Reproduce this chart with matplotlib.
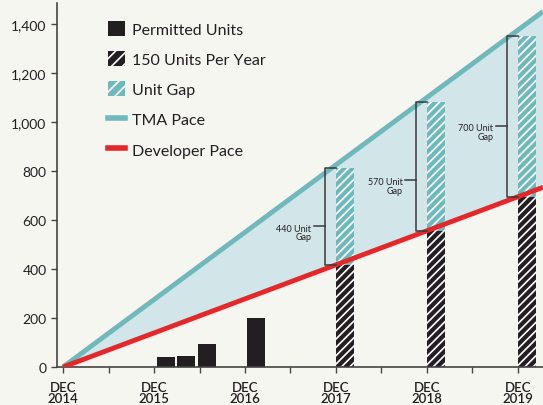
import numpy as np
import matplotlib.pyplot as plt
from matplotlib.patches import Patch
from matplotlib.lines import Line2D

# years since Dec 2014
tick_labels = ["DEC\n2014", "DEC\n2015", "DEC\n2016", "DEC\n2017", "DEC\n2018", "DEC\n2019"]
permitted_x = [1.03, 1.25, 1.48, 2.02]
permitted_units = [41, 45, 94, 200]
target_x = [3, 4, 5]
target_units = [417, 556, 695]
gap_tops = [810, 1080, 1350]
gap_labels = ["440 Unit\nGap", "570 Unit\nGap", "700 Unit\nGap"]
gap_label_y = [575, 765, 985]
tma_rate = 275
dev_rate = 139

BG = "#f6f6f1"
DARK = "#231f20"
TEAL = "#6fb9bd"
FILL = "#d2e5e8"
RED = "#e5272a"

plt.rcParams["font.family"] = ["Lato", "DejaVu Sans"]
plt.rcParams["hatch.linewidth"] = 1.2

fig = plt.figure(figsize=(5.43, 4.06), dpi=100, facecolor=BG)
ax = fig.add_axes([0.105, 0.0936, 0.895, 0.897], facecolor=BG)

xmin, xmax = -0.066, 5.275
xs = np.array([0, xmax])
ax.fill_between(xs, dev_rate * xs, tma_rate * xs, color=FILL, lw=0, zorder=1)

bw = 0.2
ax.bar(permitted_x, permitted_units, width=bw, align="edge", color=DARK, lw=0, zorder=2)
ax.bar(target_x, target_units, width=bw, align="edge", facecolor=DARK,
       edgecolor="white", hatch="////", lw=0, zorder=2)
gaps = [t - b for t, b in zip(gap_tops, target_units)]
ax.bar(target_x, gaps, bottom=target_units, width=bw, align="edge", facecolor=TEAL,
       edgecolor="white", hatch="////", lw=0, zorder=2)

ax.plot(xs, tma_rate * xs, color=TEAL, lw=3.5, solid_capstyle="butt", zorder=3)
ax.plot(xs, dev_rate * xs, color=RED, lw=3.5, solid_capstyle="butt", zorder=3)

for x, lo, hi, lab, ly in zip(target_x, target_units, gap_tops, gap_labels, gap_label_y):
    bx = x - 0.12
    ax.plot([x, bx, bx, x], [hi, hi, lo, lo], color="#3a3a3a", lw=1.1, zorder=4)
    ax.plot([bx - 0.12, bx], [ly, ly], color="#3a3a3a", lw=1.1, zorder=4)
    ax.text(bx - 0.15, ly + 10, lab, ha="right", va="top", fontsize=6.5,
            color=DARK, linespacing=0.95, multialignment="right", zorder=4)

ax.set_xlim(xmin, xmax)
ax.set_ylim(0, 1486)
ax.set_xticks(range(6))
ax.set_xticklabels(tick_labels, fontsize=9.5, fontweight="semibold", color=DARK, linespacing=0.92)
ax.set_xticks(np.arange(0.5, 5, 1), minor=True)
ax.set_yticks(range(0, 1401, 200))
ax.set_yticklabels([f"{v:,}" for v in range(0, 1401, 200)], fontsize=10, color=DARK)
ax.tick_params(axis="both", colors="#444444", length=4, width=1, labelcolor=DARK)
ax.tick_params(axis="x", which="minor", length=4, width=1, colors="#444444")
ax.tick_params(axis="x", pad=6)
for s in ["top", "right"]:
    ax.spines[s].set_visible(False)
for s in ["left", "bottom"]:
    ax.spines[s].set_color("#444444")
    ax.spines[s].set_linewidth(1.2)

handles = [
    Patch(facecolor=DARK, lw=0),
    Patch(facecolor=DARK, edgecolor="white", hatch="///", lw=0),
    Patch(facecolor=TEAL, edgecolor="white", hatch="///", lw=0),
    Line2D([], [], color=TEAL, lw=4),
    Line2D([], [], color=RED, lw=4),
]
labels = ["Permitted Units", "150 Units Per Year", "Unit Gap", "TMA Pace", "Developer Pace"]
ax.legend(handles, labels, loc="upper left", bbox_to_anchor=(0.075, 0.99), frameon=False,
          fontsize=11.5, handlelength=1.05, handleheight=1.05, handletextpad=0.45,
          labelspacing=0.9, labelcolor=DARK)

fig.savefig("out.png", dpi=100, facecolor=BG)
